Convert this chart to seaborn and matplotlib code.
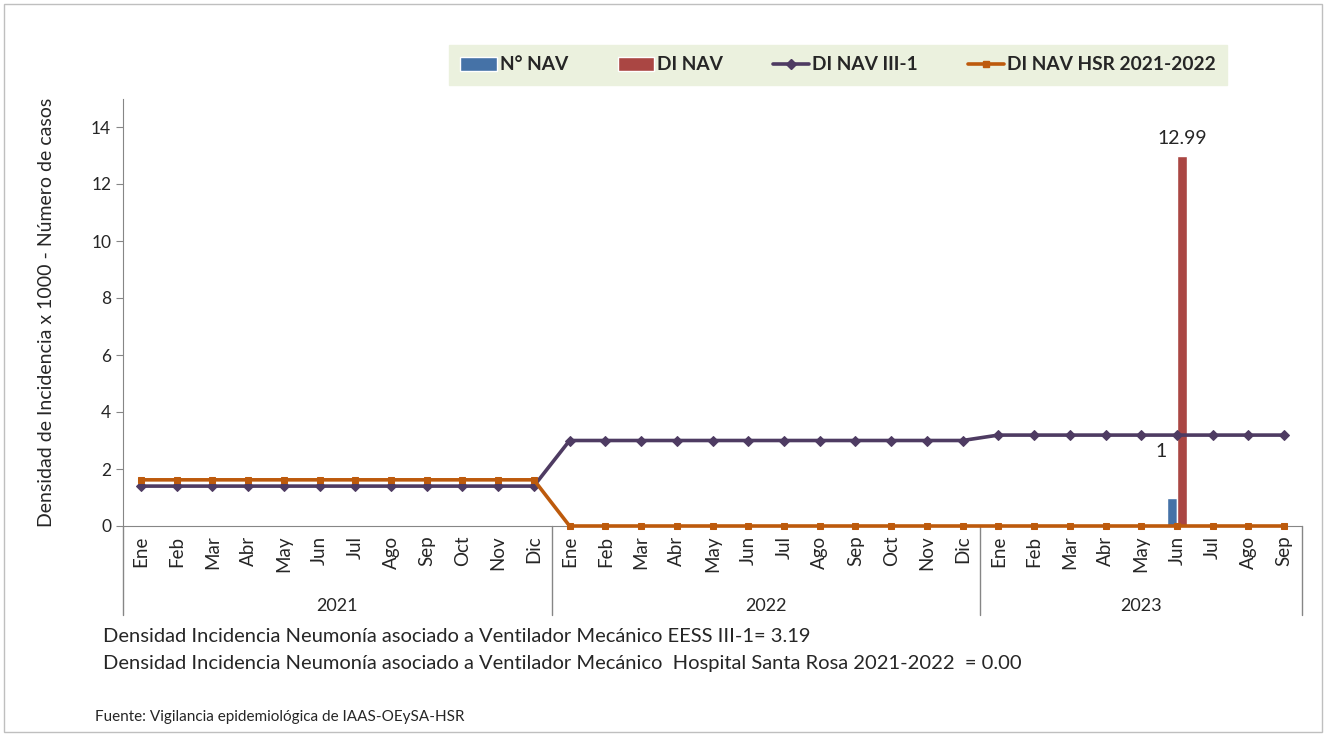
import numpy as np
import pandas as pd
import seaborn as sns
from matplotlib import pyplot as plt
from matplotlib import transforms
from matplotlib.patches import Patch
from matplotlib.lines import Line2D

sns.set_style('white')
plt.rcParams['font.family'] = ['Lato', 'DejaVu Sans']

meses_2021 = ['Ene', 'Feb', 'Mar', 'Abr', 'May', 'Jun', 'Jul', 'Ago', 'Sep', 'Oct', 'Nov', 'Dic']
meses_2022 = ['Ene', 'Feb', 'Mar', 'Abr', 'May', 'Jun', 'Jul', 'Ago', 'Sep', 'Oct', 'Nov', 'Dic']
meses_2023 = ['Ene', 'Feb', 'Mar', 'Abr', 'May', 'Jun', 'Jul', 'Ago', 'Sep']
anios = ['2021', '2022', '2023']

n_nav = [0] * 12 + [0] * 12 + [0, 0, 0, 0, 0, 1, 0, 0, 0]
di_nav = [0] * 12 + [0] * 12 + [0, 0, 0, 0, 0, 12.99, 0, 0, 0]
di_nav_iii1 = [1.40] * 12 + [3.00] * 12 + [3.19] * 9
di_nav_hsr = [1.62] * 12 + [0.00] * 12 + [0.00] * 9

meses = meses_2021 + meses_2022 + meses_2023
idx = list(range(len(meses)))

c_blue = '#4572A7'
c_red = '#AA4643'
c_purple = '#4E3B62'
c_orange = '#BD5A0C'

barras = pd.DataFrame({
    'idx': idx * 2,
    'valor': n_nav + di_nav,
    'serie': ['N° NAV'] * len(idx) + ['DI NAV'] * len(idx),
})

fig = plt.figure(figsize=(13.26, 7.36), dpi=100)
ax = fig.add_axes([123 / 1326, 1 - 526 / 736, (1302 - 123) / 1326, (526 - 98.5) / 736])

sns.barplot(data=barras, x='idx', y='valor', hue='serie', order=idx,
            palette={'N° NAV': c_blue, 'DI NAV': c_red}, width=0.58,
            saturation=1, legend=False, ax=ax)

sns.lineplot(x=idx, y=di_nav_iii1, color=c_purple, lw=2.6, marker='D',
             markersize=5.5, markeredgecolor=c_purple, ax=ax, zorder=4, clip_on=False)
sns.lineplot(x=idx, y=di_nav_hsr, color=c_orange, lw=2.6, marker='s',
             markersize=5, markeredgecolor=c_orange, ax=ax, zorder=4, clip_on=False)

ax.set_xlim(-0.5, len(idx) - 0.5)
ax.set_ylim(0, 15)
ax.set_yticks(range(0, 15, 2))
ax.set_xticks(idx)
ax.set_xticklabels(meses, rotation=90, fontsize=13.5)
ax.tick_params(axis='x', length=0, pad=7)
ax.tick_params(axis='y', length=5, color='#868686', labelsize=12.5, direction='out', left=True)
ax.set_xlabel('')
ax.set_ylabel('Densidad de Incidencia x 1000 - Número de casos', fontsize=14, labelpad=26)

for s in ['top', 'right']:
    ax.spines[s].set_visible(False)
for s in ['left', 'bottom']:
    ax.spines[s].set_color('#868686')

# etiquetas de datos
i_jun = idx[-4]
ax.text(i_jun - 0.45, 2.3, '1', ha='center', va='bottom', fontsize=14)
ax.text(i_jun + 0.15, di_nav[i_jun] + 0.3, '12.99', ha='center', va='bottom', fontsize=14)

# separadores de años
trans = transforms.blended_transform_factory(ax.transData, ax.transAxes)
bordes = [-0.5, 11.5, 23.5, len(idx) - 0.5]
for b in bordes:
    ax.add_line(Line2D([b, b], [0, -0.208], transform=trans, color='#868686', lw=1, clip_on=False))
for a, (ini, fin) in zip(anios, zip(bordes[:-1], bordes[1:])):
    ax.text((ini + fin) / 2, -0.187, a, transform=trans, ha='center', va='center', fontsize=13)

fig.text(103 / 1326, 1 - 636 / 736,
         'Densidad Incidencia Neumonía asociado a Ventilador Mecánico EESS III-1= 3.19',
         ha='left', va='center', fontsize=14.5)
fig.text(103 / 1326, 1 - 664 / 736,
         'Densidad Incidencia Neumonía asociado a Ventilador Mecánico  Hospital Santa Rosa 2021-2022  = 0.00',
         ha='left', va='center', fontsize=14.5)
fig.text(95 / 1326, 1 - 717 / 736, 'Fuente: Vigilancia epidemiológica de IAAS-OEySA-HSR',
         ha='left', va='center', fontsize=11)

handles = [
    Patch(facecolor=c_blue, label='N° NAV'),
    Patch(facecolor=c_red, label='DI NAV'),
    Line2D([], [], color=c_purple, lw=2.6, marker='D', markersize=5, label='DI NAV III-1'),
    Line2D([], [], color=c_orange, lw=2.6, marker='s', markersize=4.5, label='DI NAV HSR 2021-2022'),
]
leg = fig.legend(handles=handles, loc='center', bbox_to_anchor=(838 / 1326, 1 - 65 / 736),
                 ncol=4, frameon=True, fancybox=False, facecolor='#EBF1DE', edgecolor='#EBF1DE',
                 prop={'weight': 'bold', 'size': 13.8}, handlelength=1.9, handletextpad=0.15,
                 columnspacing=2.6, borderpad=0.6, borderaxespad=0, framealpha=1)

fig.patches.append(plt.Rectangle((4 / 1326, 4 / 736), 1 - 8 / 1326, 1 - 8 / 736,
                                 transform=fig.transFigure, fill=False, edgecolor='#BFBFBF', lw=1))

fig.savefig('out.png', dpi=100)
